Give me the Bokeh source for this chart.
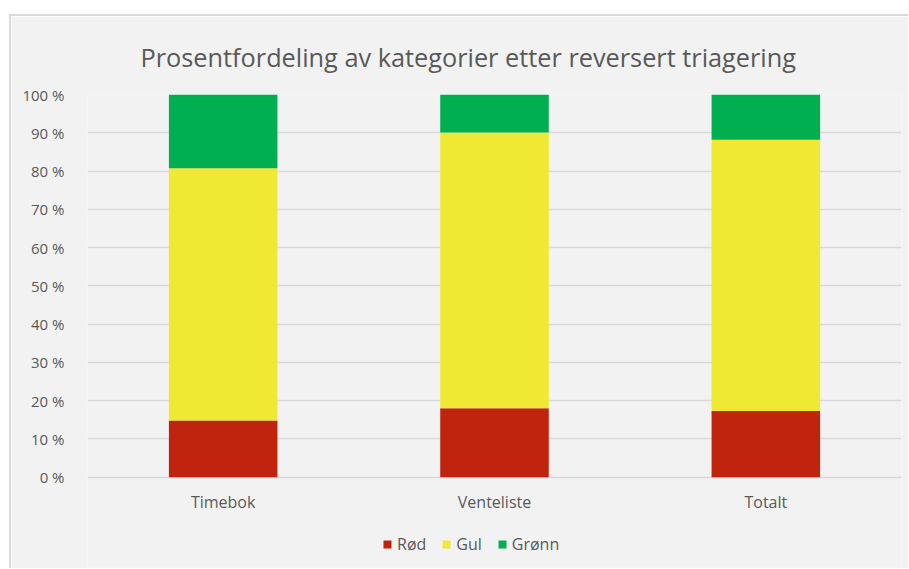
from bokeh.plotting import figure
from bokeh.models import FactorRange, Range1d, FixedTicker, Legend, LegendItem
from bokeh.core.properties import value
from bokeh.embed import file_html
from bokeh.resources import INLINE

# Andel per kategori (prosent) for hver gruppe
groups = ["Timebok", "Venteliste", "Totalt"]
rod = [14.8, 18.0, 17.3]
gul = [65.9, 72.1, 70.9]
gronn = [19.3, 9.9, 11.8]

series = ["Rød", "Gul", "Grønn"]
colors = ["#c0240f", "#f0e933", "#00af50"]
y_ticks = [0, 10, 20, 30, 40, 50, 60, 70, 80, 90, 100]

FONT = "Open Sans"
TEXT = "#595959"
BG = "#f2f2f2"

data = {"group": groups, "Rød": rod, "Gul": gul, "Grønn": gronn}

# The plot area reaches down under the category labels and the legend,
# so both sit inside it; the y range starts below zero to leave room.
p = figure(
    x_range=FactorRange(*groups, range_padding=0),
    y_range=Range1d(-23.6, 100),
    width=899, height=554,
    output_backend="svg", toolbar_location=None,
    min_border_left=76, min_border_right=9,
    min_border_top=78, min_border_bottom=3,
    background_fill_color=BG, border_fill_color=BG,
    title="Prosentfordeling av kategorier etter reversert triagering",
)
p.margin = (14, 0, 0, 9)
p.styles = {"border-top": "2px solid #d9d9d9", "border-left": "2px solid #d9d9d9"}
p.outline_line_color = None

renderers = p.vbar_stack(series, x="group", width=0.4, source=data,
                         color=colors, line_color=None)

p.title.text_font = FONT
p.title.text_font_size = "25.3px"
p.title.text_font_style = "normal"
p.title.text_color = TEXT
p.title.align = "left"
p.title.offset = 53
p.title.standoff = 41

# y-akse med prosentetiketter
p.yaxis.ticker = FixedTicker(ticks=y_ticks)
p.yaxis.major_label_overrides = {t: f"{t} %" for t in y_ticks}
p.yaxis.axis_line_color = None
p.yaxis.major_tick_line_color = None
p.yaxis.minor_tick_line_color = None
p.yaxis.major_label_text_font = FONT
p.yaxis.major_label_text_font_size = "15px"
p.yaxis.major_label_text_color = TEXT
p.yaxis.major_label_standoff = 17

p.xaxis.visible = False
p.xgrid.grid_line_color = None
p.ygrid.ticker = FixedTicker(ticks=y_ticks)
p.ygrid.grid_line_color = "#d9d9d9"
p.ygrid.grid_line_width = 1.3

# Kategorinavn under søylene
p.text(x=groups, y=[-6.4] * len(groups), text=groups,
       text_font=value(FONT), text_font_size="16px", text_color=TEXT,
       text_align="center", text_baseline="middle")

legend = Legend(
    items=[LegendItem(label=s, renderers=[r]) for s, r in zip(series, renderers)],
    orientation="horizontal",
    location=(295, 12),
    background_fill_alpha=0, border_line_color=None,
    padding=0, margin=0, spacing=15,
    glyph_width=10, glyph_height=10, label_standoff=5,
    label_text_font=FONT, label_text_font_size="16px", label_text_color=TEXT,
)
p.add_layout(legend, "center")

open("out.html", "w").write(file_html(p, INLINE))
